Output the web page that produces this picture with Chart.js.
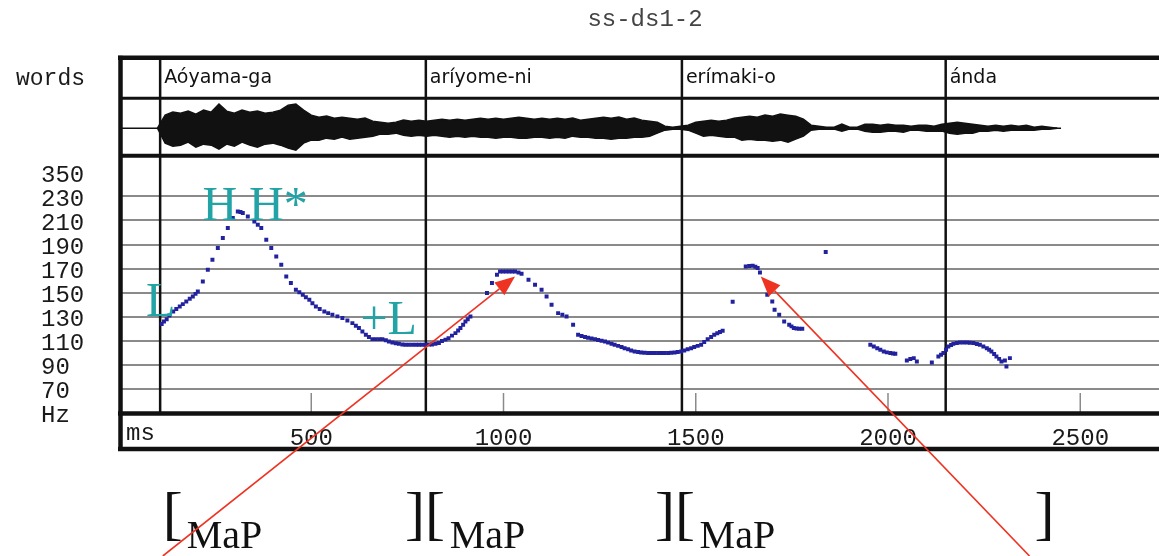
<!DOCTYPE html>
<html>
<head>
<meta charset="utf-8">
<title>ss-ds1-2</title>
<script src="https://cdn.jsdelivr.net/npm/chart.js@4.4.1/dist/chart.umd.min.js"></script>
<style>
  html, body { margin: 0; padding: 0; background: #fff; overflow: hidden; }
  #wrap { position: relative; width: 1159px; height: 556px; overflow: hidden; }
  canvas { display: block; }
</style>
</head>
<body>
<div id="wrap"><canvas id="f0chart" width="1175" height="556"></canvas></div>
<script>
// ss-ds1-2: word tier, waveform envelope and F0 track on one time axis

const TITLE = 'ss-ds1-2';
const MS_MAX = 2736;

// word tier
const wordNames = ['Aóyama-ga', 'aríyome-ni', 'erímaki-o', 'ánda'];
const wordStartMs = [107, 798, 1464, 2150];

// axis ticks
const msTicks = [500, 1000, 1500, 2000, 2500];
const hzTickValues = [250, 230, 210, 190, 170, 150, 130, 110, 90, 70, 50];
const hzTickLabels = ['350', '230', '210', '190', '170', '150', '130', '110', '90', '70', 'Hz'];

// waveform envelope (upper and lower half heights), 20 ms frames starting at 100 ms
const waveStartMs = 100;
const waveStepMs = 20;
const waveUp = [
  0, 13, 16, 15, 17, 14, 18, 16, 24, 17, 15, 18, 16, 17, 15, 16, 18, 23, 24, 18,
  13, 11, 12, 10, 11, 10, 9, 10, 7, 6, 5, 6, 8, 7, 8, 7, 8, 9, 8, 9,
  8, 9, 10, 9, 10, 9, 10, 11, 10, 9, 10, 9, 10, 9, 10, 8, 9, 10, 11, 10,
  11, 9, 10, 8, 7, 6, 2, 1, 2, 3, 6, 7, 8, 7, 8, 10, 11, 12, 11, 13,
  12, 14, 13, 12, 9, 3, 2, 1, 1, 4, 1, 1, 4, 4, 3, 4, 3, 3, 2, 3,
  3, 2, 4, 5, 6, 5, 4, 3, 2, 3, 2, 3, 2, 3, 1, 2, 1, 0
];
const waveDown = [
  0, 15, 18, 17, 14, 19, 16, 17, 21, 16, 18, 14, 17, 19, 16, 15, 17, 20, 22, 15,
  12, 12, 10, 11, 9, 11, 10, 9, 8, 6, 6, 5, 7, 8, 7, 8, 7, 8, 9, 8,
  9, 8, 9, 9, 10, 9, 9, 10, 10, 9, 9, 10, 9, 10, 8, 9, 9, 10, 10, 11,
  10, 10, 9, 9, 8, 5, 2, 1, 1, 2, 5, 8, 7, 8, 9, 9, 12, 11, 12, 12,
  13, 12, 14, 11, 8, 2, 1, 1, 1, 3, 1, 1, 3, 4, 4, 3, 3, 4, 2, 2,
  3, 3, 3, 5, 6, 5, 5, 3, 3, 2, 3, 2, 2, 2, 2, 1, 1, 0
];
const waveLineEndMs = 2450;

// F0 track
const f0Ms = [
  111, 117, 124, 131, 141, 149, 158, 166, 175, 184, 192, 199, 205, 218, 231, 243, 257, 270, 283, 296,
  309, 316, 322, 335, 352, 361, 370, 383, 396, 409, 422, 435, 447, 460, 469, 478, 486, 495, 503, 512,
  522, 534, 544, 555, 568, 581, 594, 607, 616, 624, 633, 642, 650, 659, 668, 677, 685, 694, 702, 711,
  720, 728, 737, 745, 754, 763, 772, 780, 788, 797, 806, 814, 823, 832, 840, 849, 857, 866, 875, 882,
  888, 895, 901, 907, 914,
  957, 970, 983, 991, 999, 1007, 1015, 1023, 1030, 1039, 1047, 1065, 1082, 1099, 1112, 1125, 1142, 1153, 1164, 1181,
  1194, 1203, 1212, 1220, 1229, 1238, 1246, 1255, 1264, 1272, 1281, 1289, 1298, 1307, 1315, 1324, 1332, 1341, 1350, 1358,
  1367, 1376, 1384, 1393, 1402, 1410, 1419, 1428, 1436, 1445, 1453, 1462, 1470, 1479, 1488, 1496, 1505, 1514, 1522, 1531,
  1540, 1548, 1556, 1563, 1570,
  1596,
  1630, 1639, 1648, 1655, 1661, 1667, 1686, 1699, 1705, 1717, 1730, 1743, 1749, 1755, 1762, 1769, 1777,
  1838,
  1954, 1963, 1972, 1980, 1989, 1997, 2006, 2013, 2019,
  2049, 2058, 2067, 2075, 2114,
  2131, 2138, 2144, 2151, 2157, 2164, 2170, 2179, 2187, 2196, 2205, 2213, 2222, 2231, 2239, 2248, 2257, 2263, 2269, 2276,
  2282, 2289, 2295, 2304, 2308, 2317
];
const f0Hz = [
  124, 126, 128, 131, 134.4, 136.5, 138.5, 140.5, 142.7, 145, 146.8, 149, 151, 159.3, 169, 177.4, 187.1, 195.4, 203.7, 212,
  217.5, 217, 216.2, 213.4, 209.2, 206.5, 203.7, 194, 187.1, 180.1, 173.2, 163.5, 158, 152.4, 150.3, 148.3, 146.2, 144.1, 141.3, 138.5,
  136.5, 134.4, 133, 131.6, 130.3, 128.9, 126.8, 124.7, 122.6, 120.6, 117.8, 115, 113.2, 111.4, 111.4, 111.4, 111.4, 110.5, 109.5, 108.6,
  108, 107.5, 107, 106.7, 106.7, 106.7, 106.7, 106.7, 106.7, 106.7, 107, 107, 107.5, 108.1, 109.8, 111, 112.2, 114.3, 116.4, 118.5,
  120.6, 123.3, 126, 128, 130.2,
  149.7, 158, 164.9, 167.6, 167.6, 167.6, 167.6, 167.6, 167.6, 166.7, 165.7, 160.7, 156.6, 152.4, 146.8, 139.9, 133, 131.6, 130.2, 123.3,
  115, 114, 113.1, 112.5, 112, 111.4, 110.7, 110, 109.4, 108.5, 107.6, 106.7, 105.8, 104.8, 103.9, 103, 102, 101.1, 100.7, 100.3,
  100, 99.8, 99.8, 99.8, 99.8, 99.8, 99.8, 99.8, 100, 100.3, 100.7, 101.1, 102, 103, 103.9, 104.8, 105.8, 106.7, 109, 111.4,
  113.2, 115, 116.2, 117.3, 118.3,
  142.5,
  171.8, 172.1, 172.4, 171.5, 170.5, 166.8, 148.3, 142.7, 135.8, 131.6, 126, 123.3, 122, 120.6, 120.2, 120, 120,
  183.8,
  106.7, 105.3, 103.9, 102.5, 101.1, 100.4, 99.8, 99.5, 99.2,
  93.6, 94.8, 95.6, 92.8, 92,
  97, 98.5, 99.8, 102.5, 105.3, 106.5, 107.5, 108.2, 108.6, 108.6, 108.6, 108.4, 108.1, 107.4, 106.7, 105.3, 103.9, 102.5, 101.1, 99,
  97, 95, 92.8, 93.6, 88.6, 95.6
];

// tone labels, pointers and the bracket row, anchored in ms / Hz
const notes = {
  tones: [
    { text: 'L', ms: 70, hz: 130.7 },
    { text: 'H H*', ms: 217, hz: 210.6 },
    { text: '+L', ms: 628, hz: 115.8 }
  ],
  pointers: [
    { tipMs: 1030, tipHz: 163.5, tailMs: 114 },
    { tipMs: 1669, tipHz: 163.5, tailMs: 2368 }
  ],
  brackets: [
    { open: '[', ms: 114, subMs: 176 },
    { open: '][', ms: 744, subMs: 860 },
    { open: '][', ms: 1394, subMs: 1510 },
    { open: ']', ms: 2381, subMs: null }
  ]
};

const MONO = '"Liberation Mono", "DejaVu Sans Mono", monospace';
const SERIF = '"Liberation Serif", "DejaVu Serif", serif';
const TEAL = '#22a3a5';
const RED = '#ee3322';
const DOT = '#22229e';

const waveTop = waveUp.map((a, i) => ({ x: waveStartMs + i * waveStepMs, y: a }));
const waveBottom = waveDown.map((a, i) => ({ x: waveStartMs + i * waveStepMs, y: -a }));
const f0Points = f0Ms.map((ms, i) => ({ x: ms, y: f0Hz[i] }));

function hline(ctx, x0, x1, y) { ctx.beginPath(); ctx.moveTo(x0, y); ctx.lineTo(x1, y); ctx.stroke(); }
function vline(ctx, x, y0, y1) { ctx.beginPath(); ctx.moveTo(x, y0); ctx.lineTo(x, y1); ctx.stroke(); }

function drawPointer(ctx, x0, y0, x1, y1) {
  const ang = Math.atan2(y1 - y0, x1 - x0);
  const len = 20, half = 8;
  const bx = x1 - len * Math.cos(ang), by = y1 - len * Math.sin(ang);
  ctx.beginPath(); ctx.moveTo(x0, y0); ctx.lineTo(bx, by); ctx.stroke();
  ctx.beginPath();
  ctx.moveTo(x1, y1);
  ctx.lineTo(bx + half * Math.sin(ang), by - half * Math.cos(ang));
  ctx.lineTo(bx - half * Math.sin(ang), by + half * Math.cos(ang));
  ctx.closePath();
  ctx.fill();
}

const framePlugin = {
  id: 'frame',
  beforeDatasetsDraw(chart) {
    const { ctx, chartArea: a, scales } = chart;
    const x = scales.x;
    const right = chart.width + 5;
    ctx.save();

    // short time ticks at the foot of the F0 panel
    ctx.strokeStyle = '#8a8a8a';
    ctx.lineWidth = 1.5;
    msTicks.forEach(v => vline(ctx, x.getPixelForValue(v), a.bottom - 20, a.bottom));

    // word boundaries and names
    ctx.strokeStyle = '#111';
    ctx.lineWidth = 2.5;
    ctx.fillStyle = '#111';
    ctx.font = '19px "DejaVu Sans", sans-serif';
    ctx.textBaseline = 'middle';
    ctx.textAlign = 'left';
    const wordMid = (scales.yWords.top + scales.yWords.bottom) / 2 + 1;
    wordStartMs.forEach((v, i) => {
      const px = x.getPixelForValue(v);
      vline(ctx, px, a.top, a.bottom);
      ctx.fillText(wordNames[i], px + 4, wordMid);
    });

    // tier name left of the frame
    ctx.fillStyle = '#1a1a1a';
    ctx.font = '23px ' + MONO;
    ctx.textAlign = 'right';
    ctx.fillText('words', a.left - 34, wordMid);

    // row separators
    ctx.lineWidth = 3;
    hline(ctx, a.left, right, scales.yWords.bottom);
    ctx.lineWidth = 4;
    hline(ctx, a.left, right, scales.yWave.bottom);

    // outer frame and the ms row
    ctx.lineWidth = 4.5;
    hline(ctx, a.left - 1, right, a.top + 1);
    hline(ctx, a.left - 1, right, a.bottom + 0.5);
    hline(ctx, a.left - 1, right, a.bottom + 36);
    vline(ctx, a.left + 1.5, a.top - 1, a.bottom + 38);

    ctx.font = '24px ' + MONO;
    ctx.textAlign = 'left';
    ctx.fillText('ms', a.left + 7, a.bottom + 21);
    ctx.restore();
  },
  afterDraw(chart) {
    const { ctx, scales } = chart;
    const x = scales.x, y = scales.yPitch;
    ctx.save();

    // tone labels
    ctx.fillStyle = TEAL;
    ctx.font = '48px ' + SERIF;
    ctx.textBaseline = 'alphabetic';
    ctx.textAlign = 'left';
    notes.tones.forEach(t => ctx.fillText(t.text, x.getPixelForValue(t.ms), y.getPixelForValue(t.hz)));

    // bracket row under the chart
    ctx.fillStyle = '#111';
    notes.brackets.forEach(b => {
      ctx.font = '60px ' + SERIF;
      ctx.fillText(b.open, x.getPixelForValue(b.ms), 533);
      if (b.subMs !== null) {
        ctx.font = '40px ' + SERIF;
        ctx.fillText('MaP', x.getPixelForValue(b.subMs), 548);
      }
    });

    // pointers to the accent peaks
    ctx.strokeStyle = RED;
    ctx.fillStyle = RED;
    ctx.lineWidth = 1.6;
    notes.pointers.forEach(p => drawPointer(ctx,
      x.getPixelForValue(p.tailMs), chart.height,
      x.getPixelForValue(p.tipMs), y.getPixelForValue(p.tipHz)));
    ctx.restore();
  }
};

new Chart(document.getElementById('f0chart'), {
  type: 'scatter',
  data: {
    datasets: [
      {
        label: 'F0',
        data: f0Points,
        yAxisID: 'yPitch',
        pointStyle: 'rect',
        pointRadius: 2.8,
        pointBorderWidth: 0,
        pointBackgroundColor: DOT,
        borderColor: DOT
      },
      {
        label: 'wave +',
        data: waveTop,
        yAxisID: 'yWave',
        showLine: true,
        pointRadius: 0,
        borderWidth: 1.5,
        borderColor: '#111',
        backgroundColor: '#111',
        fill: '+1'
      },
      {
        label: 'wave -',
        data: waveBottom,
        yAxisID: 'yWave',
        showLine: true,
        pointRadius: 0,
        borderWidth: 1.5,
        borderColor: '#111',
        fill: false
      },
      {
        label: 'wave axis',
        data: [{ x: 0, y: 0 }, { x: waveLineEndMs, y: 0 }],
        yAxisID: 'yWave',
        showLine: true,
        pointRadius: 0,
        borderWidth: 1.5,
        borderColor: '#111'
      }
    ]
  },
  options: {
    responsive: false,
    animation: false,
    events: [],
    layout: { padding: { left: 41, top: 0, right: 0, bottom: 0 } },
    plugins: {
      legend: { display: false },
      tooltip: { enabled: false },
      title: {
        display: true,
        text: TITLE,
        fullSize: false,
        color: '#444',
        font: { family: MONO, size: 24, weight: 'normal' },
        padding: { top: 5, bottom: 23 }
      }
    },
    scales: {
      x: {
        type: 'linear',
        min: 0,
        max: MS_MAX,
        grid: { display: false, drawTicks: false },
        border: { display: false },
        afterBuildTicks: s => { s.ticks = msTicks.map(v => ({ value: v })); },
        afterFit: s => { s.height = 143; },
        ticks: {
          autoSkip: false,
          maxRotation: 0,
          padding: 11,
          color: '#1a1a1a',
          font: { family: MONO, size: 24 },
          callback: v => String(v)
        }
      },
      yWords: {
        type: 'linear',
        position: 'left',
        stack: 'rows',
        stackWeight: 41.5,
        weight: 3,
        min: 0,
        max: 1,
        grid: { display: false },
        border: { display: false },
        afterFit: s => { s.width = 78; },
        ticks: { display: false }
      },
      yWave: {
        type: 'linear',
        position: 'left',
        stack: 'rows',
        stackWeight: 57.5,
        weight: 2,
        min: -27.7,
        max: 29.8,
        grid: { display: false },
        border: { display: false },
        afterFit: s => { s.width = 78; },
        ticks: { display: false }
      },
      yPitch: {
        type: 'linear',
        position: 'left',
        stack: 'rows',
        stackWeight: 257,
        weight: 1,
        min: 50,
        max: 50 + 257 / 1.2025,
        border: { display: false },
        grid: {
          drawTicks: false,
          lineWidth: 2,
          color: c => (c.tick && c.tick.value >= 70 && c.tick.value <= 230) ? '#8a8a8a' : 'rgba(0,0,0,0)'
        },
        afterBuildTicks: s => { s.ticks = hzTickValues.map(v => ({ value: v })); },
        afterFit: s => { s.width = 78; },
        ticks: {
          autoSkip: false,
          crossAlign: 'far',
          labelOffset: 3,
          color: '#1a1a1a',
          font: { family: MONO, size: 24 },
          callback: v => hzTickLabels[hzTickValues.indexOf(v)]
        }
      }
    }
  },
  plugins: [framePlugin]
});
</script>
</body>
</html>
